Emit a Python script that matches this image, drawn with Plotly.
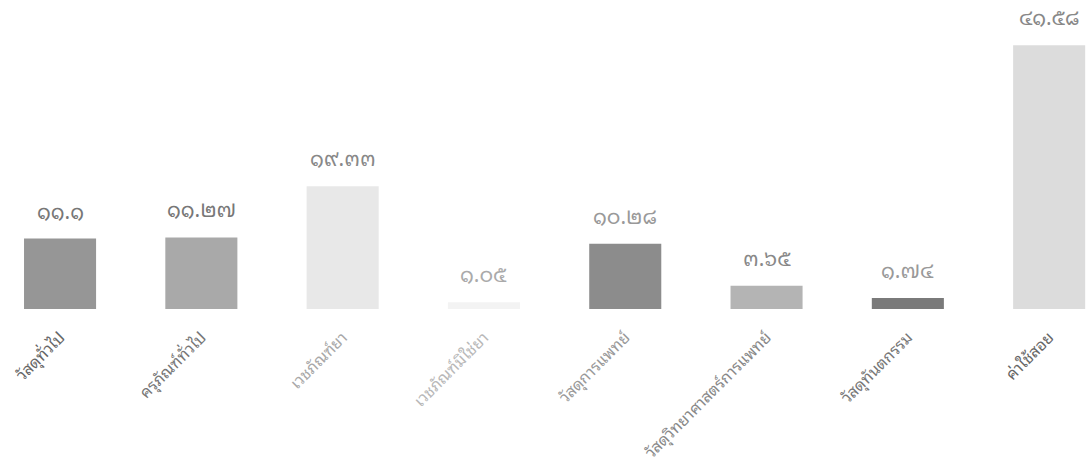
import plotly.graph_objects as go

categories = ["วัสดุทั่วไป", "ครุภัณฑ์ทั่วไป", "เวชภัณฑ์ยา", "เวชภัณฑ์มิใช่ยา",
              "วัสดุการแพทย์", "วัสดุวิทยาศาสตร์การแพทย์", "วัสดุทันตกรรม", "ค่าใช้สอย"]
values = [11.1, 11.27, 19.33, 1.05, 10.28, 3.65, 1.74, 41.58]
value_labels = ["11.1", "11.27", "19.33", "1.05", "10.28", "3.65", "1.74", "41.58"]

bar_colors = ["#969696", "#a9a9a9", "#e8e8e8", "#f3f3f3", "#8c8c8c", "#b4b4b4", "#7a7a7a", "#dcdcdc"]
tick_colors = ["#666666", "#777777", "#a8a8a8", "#b8b8b8", "#999999", "#888888", "#777777", "#666666"]
label_colors = ["#777777", "#777777", "#888888", "#aaaaaa", "#999999", "#888888", "#999999", "#888888"]

thai_digits = str.maketrans("0123456789", "๐๑๒๓๔๕๖๗๘๙")

FONT = "Noto Sans Thai Looped, Noto Serif Thai, Noto Sans Thai, Noto Sans, sans-serif"

x = list(range(len(categories)))
fig = go.Figure()
fig.add_trace(go.Bar(
    x=x, y=values, width=0.51,
    marker=dict(color=bar_colors, line=dict(width=0)),
    hoverinfo="skip",
))

for i, (v, t) in enumerate(zip(values, value_labels)):
    fig.add_annotation(x=i, y=v, text=t.translate(thai_digits), showarrow=False,
                       yanchor="bottom", yshift=11,
                       font=dict(family=FONT, size=21, color=label_colors[i]))

ticktext = [f"<span style='color:{c}'>{t}</span>" for t, c in zip(categories, tick_colors)]

fig.update_layout(
    width=1089, height=473,
    margin=dict(l=0, r=0, t=0, b=164),
    paper_bgcolor="white", plot_bgcolor="white",
    showlegend=False,
    xaxis=dict(range=[-0.425, 7.282], tickmode="array", tickvals=x, ticktext=ticktext,
               tickangle=-45, showgrid=False, zeroline=False, showline=False,
               ticklabelstandoff=15, automargin=False,
               tickfont=dict(family=FONT, size=16, color="#777777")),
    yaxis=dict(range=[0, 48.7], visible=False, showgrid=False, zeroline=False,
               automargin=False),
)

fig.write_html("out.html")
